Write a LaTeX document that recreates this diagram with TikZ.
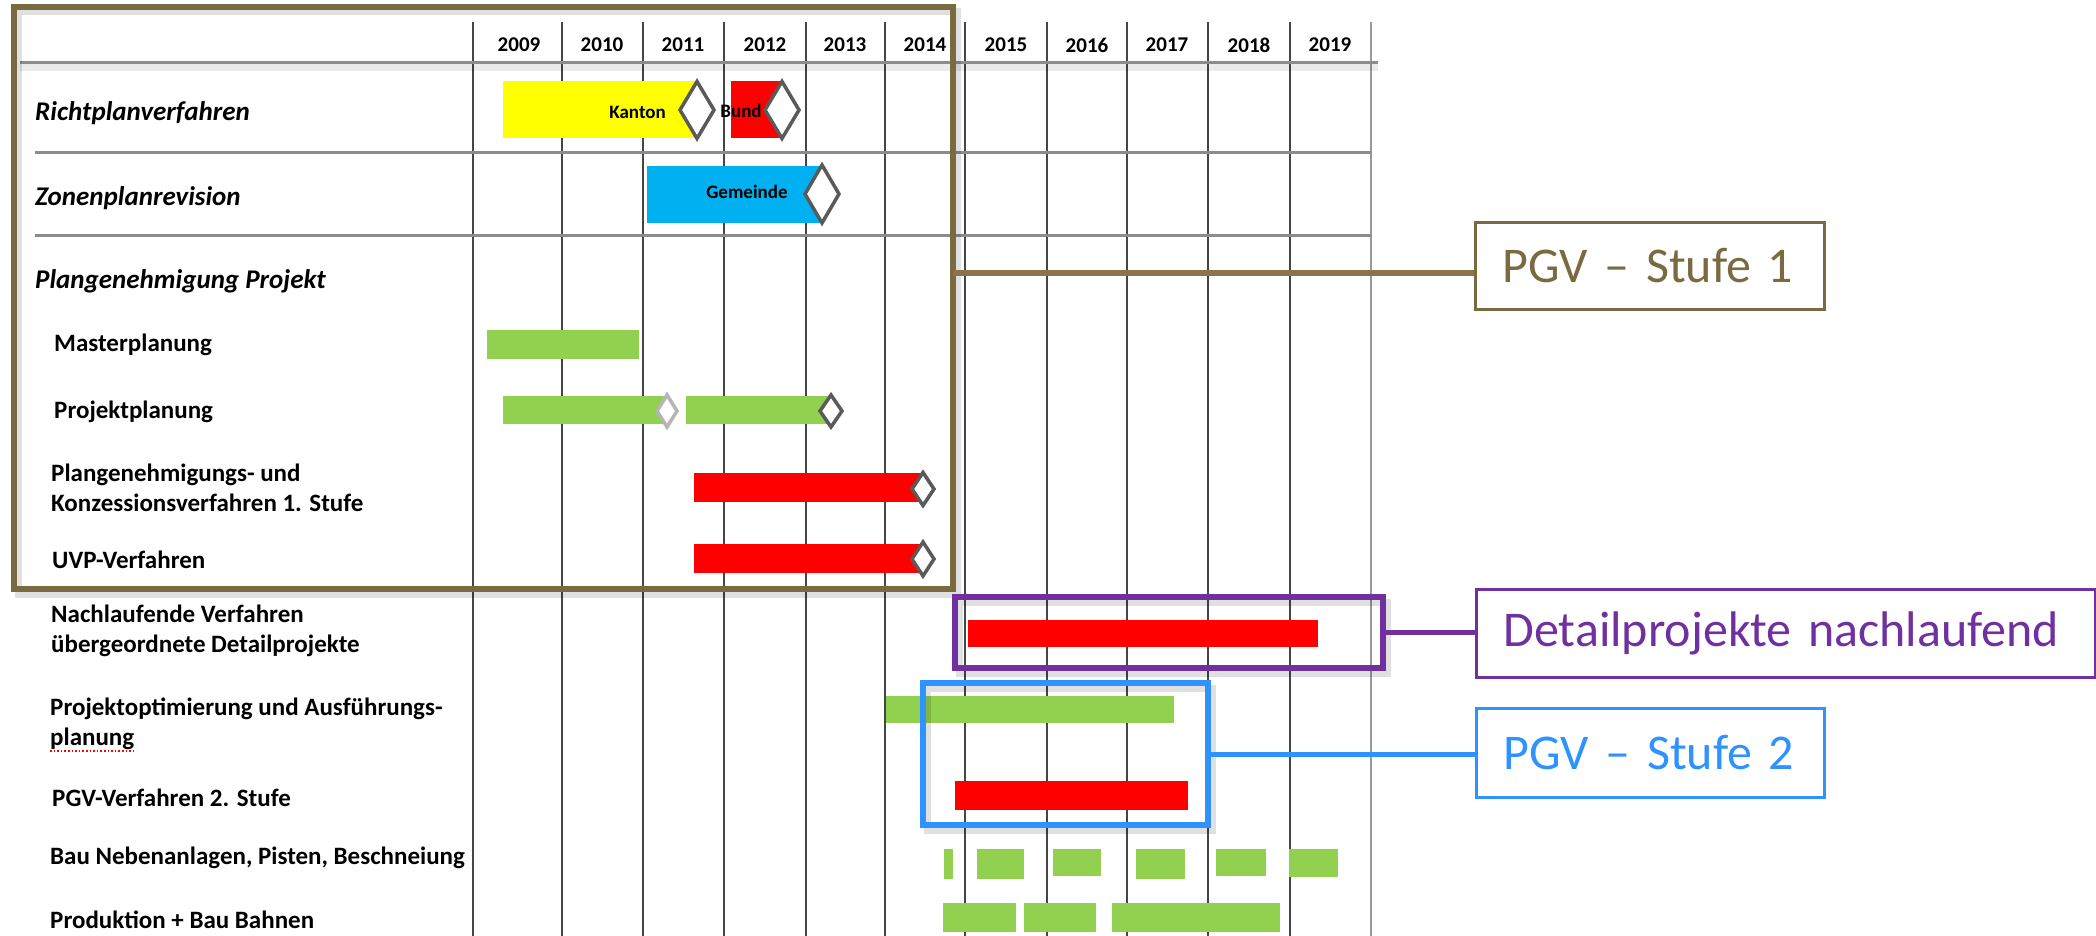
\documentclass[tikz,border=0pt]{standalone}
\usepackage{fontspec}
\setmainfont{Carlito}
\usetikzlibrary{shapes.geometric}
\definecolor{brownframe}{HTML}{7A6A40}
\definecolor{brownline}{HTML}{8B7548}
\definecolor{purp}{HTML}{7030A0}
\definecolor{bluefr}{HTML}{2E93FF}
\definecolor{ganttgreen}{HTML}{92D050}
\definecolor{ganttblue}{HTML}{00B0F0}
\definecolor{ganttred}{HTML}{FF0000}
\definecolor{ganttyellow}{HTML}{FFFF00}
\definecolor{gridc}{HTML}{454545}
\definecolor{rowline}{HTML}{8C8C8C}
\definecolor{diag}{HTML}{5A5A5A}
\tikzset{
 bar/.style={anchor=north west, inner sep=0pt, outer sep=0pt, draw=none},
 ms/.style={shape=diamond, draw=diag, fill=white, line width=3.5pt, inner sep=0pt, outer sep=0pt},
 rowlabel/.style={anchor=west, inner sep=0pt, font=\fontsize{25}{30}\selectfont\bfseries, align=left},
 grouplabel/.style={anchor=west, inner sep=0pt, font=\fontsize{27}{32}\selectfont\bfseries\itshape},
 yearlabel/.style={inner sep=0pt, font=\fontsize{21}{24}\selectfont\bfseries},
 barlabel/.style={inner sep=0pt, font=\fontsize{19}{22}\selectfont\bfseries},
 callout/.style={draw, line width=3pt, inner xsep=27pt, inner ysep=0pt, align=left, font=\fontsize{50}{60}\selectfont, anchor=north west},
 framebox/.style={draw, line width=6pt, inner sep=0pt, outer sep=0pt, anchor=north west},
 shadowline/.style={draw=black, opacity=0.12, line width=7pt},
 gridline/.style={draw=gridc, line width=2pt},
 hline/.style={draw=rowline, line width=3pt},
}
\newcommand{\ganttbar}[6]{\node[bar, fill=#2, minimum width={(#5-#3)*1pt}, minimum height={(#6-#4)*1pt}] (#1) at (#3,#4) {};}
\newcommand{\milestone}[5]{\node[ms, draw=#5, minimum width=#3pt, minimum height=#4pt] (#1) at #2 {};}
\begin{document}
\begin{tikzpicture}[x=1pt,y=-1pt]
\useasboundingbox (0,0) rectangle (2096,936);
\fill[white] (0,0) rectangle (2096,936);

% grid
\foreach \x in {473,562,643,724,806,885,965,1047,1127,1208,1290}
  \draw[gridline] (\x,22) -- (\x,936);
\draw[gridline, draw=gridc!55] (1371,22) -- (1371,936);
\draw[shadowline, opacity=0.08] (20,68) -- (1378,68);
\draw[hline] (20,63) -- (1378,63);
\draw[hline] (35,153) -- (1371,153);
\draw[hline] (35,236) -- (1371,236);

% years
\foreach \yr/\x in {2009/519,2010/602,2011/683,2012/765,2013/845,2014/925,2015/1006,2016/1087,2017/1167,2018/1249,2019/1330}
  \node[yearlabel] (y\yr) at (\x,45) {\yr};

% row labels
\node[grouplabel] (rp) at (35,113) {Richtplanverfahren};
\node[grouplabel] (zp) at (35,198) {Zonenplanrevision};
\node[grouplabel] (pp) at (35,281) {Plangenehmigung Projekt};
\node[rowlabel] (mp) at (54,345) {Masterplanung};
\node[rowlabel] (prp) at (54,412) {Projektplanung};
\node[rowlabel] (pgk) at (51,488) {Plangenehmigungs- und\\Konzessionsverfahren 1. Stufe};
\node[rowlabel] (uvp) at (52,560) {UVP-Verfahren};
\node[rowlabel] (nach) at (51,631) {Nachlaufende Verfahren\\übergeordnete Detailprojekte};
\node[rowlabel] (opt) at (50,724) {Projektoptimierung und Ausführungs-\\planung};
\draw[ganttred, dotted, line width=1.6pt] (50,751) -- (135,751);
\node[rowlabel] (pgv) at (52,798) {PGV-Verfahren 2. Stufe};
\begin{scope}
\clip (0,825) rectangle (472,895);
\node[rowlabel] (bau) at (50,858) {Bau Nebenanlagen, Pisten, Beschneiung};
\end{scope}
\node[rowlabel] (prod) at (50,920) {Produktion + Bau Bahnen};

% bars
\ganttbar{bkanton}{ganttyellow}{503}{81}{697}{138}
\ganttbar{bbund}{ganttred}{731}{81}{782}{138}
\ganttbar{bgem}{ganttblue}{647}{166}{822}{223}
\ganttbar{bmaster}{ganttgreen}{487}{330}{639}{359}
\ganttbar{bproj1}{ganttgreen}{503}{396}{667}{424}
\ganttbar{bproj2}{ganttgreen}{686}{396}{831}{424}
\ganttbar{bpgk}{ganttred}{694}{473}{923}{502}
\ganttbar{buvp}{ganttred}{694}{544}{923}{573}
\ganttbar{bnach}{ganttred}{968}{620}{1318}{647}
\ganttbar{bopt}{ganttgreen}{886}{696}{1174}{723}
\ganttbar{bpgv}{ganttred}{955}{781}{1188}{810}
\ganttbar{bau1}{ganttgreen}{944}{849}{953}{879}
\ganttbar{bau2}{ganttgreen}{977}{849}{1024}{879}
\ganttbar{bau3}{ganttgreen}{1053}{849}{1101}{876}
\ganttbar{bau4}{ganttgreen}{1136}{849}{1185}{879}
\ganttbar{bau5}{ganttgreen}{1216}{849}{1266}{876}
\ganttbar{bau6}{ganttgreen}{1289}{849}{1338}{877}
\ganttbar{prod1}{ganttgreen}{943}{903}{1016}{932}
\ganttbar{prod2}{ganttgreen}{1024}{903}{1096}{932}
\ganttbar{prod3}{ganttgreen}{1112}{903}{1280}{932}

% bar texts
\node[barlabel, anchor=east] (tkanton) at (666,112) {Kanton};
\node[barlabel] (tbund) at (741,111) {Bund};
\node[barlabel] (tgem) at (747,192) {Gemeinde};

% milestones
\milestone{dk}{(697,110)}{34}{57}{diag}
\milestone{db}{(782,110)}{34}{57}{diag}
\milestone{dg}{(822,194)}{34}{58}{diag}
\milestone{dp1}{(667,411)}{20}{32}{diag!45}
\milestone{dp2}{(831,411)}{22}{32}{diag}
\milestone{dpg}{(923,489)}{22}{33}{diag}
\milestone{duv}{(923,559)}{22}{34}{diag}

% frames with shadows
\draw[shadowline] (18,12) rectangle (957,594);
\node[framebox, draw=brownframe, minimum width=939pt, minimum height=582pt] (f1) at (14,7) {};
\draw[shadowline] (959,602) rectangle (1387,673);
\node[framebox, draw=purp, minimum width=428pt, minimum height=71pt] (f2) at (955,597) {};
\draw[shadowline] (927,688) rectangle (1212,830);
\node[framebox, draw=bluefr, minimum width=285pt, minimum height=142pt] (f3) at (923,683) {};

% callouts
\node[callout, draw=brownframe, text=brownframe, text width=295pt, minimum height=87pt] (l1) at (1474,221) {PGV -- Stufe 1};
\node[callout, draw=purp, text=purp, text width=565pt, minimum height=88pt] (l2) at (1475,588) {Detailprojekte nachlaufend};
\node[callout, draw=bluefr, text=bluefr, text width=294pt, minimum height=89pt] (l3) at (1475,707) {PGV -- Stufe 2};

\coordinate (c1) at (0,273);
\draw[brownline, line width=6pt] (f1.east |- c1) -- (l1.west |- c1);
\draw[purp, line width=5pt] (f2.east) -- (l2.west |- f2.east);
\draw[bluefr, line width=5pt] (f3.east) -- (l3.west |- f3.east);
\end{tikzpicture}
\end{document}
